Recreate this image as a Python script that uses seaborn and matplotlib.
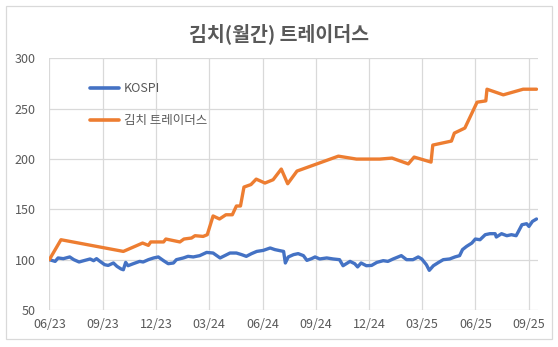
import matplotlib
matplotlib.use("Agg")
import matplotlib.pyplot as plt
import matplotlib.dates as mdates
from matplotlib.patches import Rectangle
import pandas as pd
import seaborn as sns

# 김치 트레이더스: monthly trade snapshots (index, start = 100)
kimchi_dates = [
    "2023-06-01", "2023-06-21", "2023-10-06", "2023-11-08", "2023-11-18", "2023-11-22",
    "2023-12-14", "2023-12-18", "2024-01-11", "2024-01-18", "2024-01-31", "2024-02-06",
    "2024-02-20", "2024-02-27", "2024-03-08", "2024-03-19", "2024-03-30", "2024-04-10",
    "2024-04-17", "2024-04-24", "2024-04-30", "2024-05-12", "2024-05-21", "2024-06-05",
    "2024-06-19", "2024-07-03", "2024-07-14", "2024-07-30", "2024-10-09", "2024-11-09",
    "2024-12-19", "2025-01-09", "2025-02-06", "2025-02-16", "2025-03-17", "2025-03-20",
    "2025-04-21", "2025-04-26", "2025-05-14", "2025-06-04", "2025-06-19", "2025-06-21",
    "2025-07-19", "2025-08-22", "2025-09-14",
]
kimchi_values = [
    100.0, 119.8, 108.2, 116.5, 114.2, 117.6,
    117.6, 120.5, 117.6, 120.5, 121.5, 123.8,
    123.1, 124.8, 143.4, 140.4, 144.6, 144.6,
    153.3, 153.3, 172.1, 174.6, 180.0, 176.1,
    179.4, 190.0, 175.4, 188.0, 202.8, 199.9,
    199.9, 200.9, 195.1, 201.9, 196.9, 213.8,
    217.8, 225.7, 230.7, 256.4, 257.7, 269.3,
    263.7, 269.3, 269.3,
]

# KOSPI index rebased to 100
kospi_dates = [
    "2023-06-01", "2023-06-11", "2023-06-16", "2023-06-25", "2023-07-06", "2023-07-13",
    "2023-07-22", "2023-08-01", "2023-08-10", "2023-08-16", "2023-08-21", "2023-08-27",
    "2023-09-04", "2023-09-10", "2023-09-19", "2023-09-25", "2023-10-02", "2023-10-06",
    "2023-10-10", "2023-10-14", "2023-10-23", "2023-11-03", "2023-11-09", "2023-11-18",
    "2023-11-27", "2023-12-05", "2023-12-14", "2023-12-22", "2023-12-31", "2024-01-05",
    "2024-01-17", "2024-01-25", "2024-02-03", "2024-02-14", "2024-02-26", "2024-03-08",
    "2024-03-20", "2024-03-28", "2024-04-06", "2024-04-17", "2024-04-26", "2024-05-04",
    "2024-05-13", "2024-05-22", "2024-06-02", "2024-06-14", "2024-06-22", "2024-07-01",
    "2024-07-07", "2024-07-10", "2024-07-15", "2024-07-24", "2024-08-01", "2024-08-10",
    "2024-08-16", "2024-08-24", "2024-08-30", "2024-09-07", "2024-09-19", "2024-09-30",
    "2024-10-11", "2024-10-17", "2024-10-29", "2024-11-06", "2024-11-11", "2024-11-17",
    "2024-11-26", "2024-12-05", "2024-12-14", "2024-12-25", "2025-01-02", "2025-01-11",
    "2025-01-25", "2025-02-03", "2025-02-14", "2025-02-23", "2025-03-01", "2025-03-09",
    "2025-03-14", "2025-03-21", "2025-03-30", "2025-04-07", "2025-04-18", "2025-04-27",
    "2025-05-05", "2025-05-10", "2025-05-17", "2025-05-26", "2025-06-01", "2025-06-09",
    "2025-06-18", "2025-06-26", "2025-07-05", "2025-07-07", "2025-07-16", "2025-07-25",
    "2025-08-02", "2025-08-10", "2025-08-14", "2025-08-20", "2025-08-28", "2025-09-01",
    "2025-09-07", "2025-09-14",
]
kospi_values = [
    100.0, 98.3, 101.7, 101.0, 102.7, 100.0,
    97.7, 99.3, 100.7, 99.0, 101.0, 98.3,
    95.0, 94.3, 96.7, 93.4, 90.8, 90.0,
    97.3, 94.0, 96.0, 98.3, 97.7, 100.0,
    101.7, 102.7, 99.0, 96.0, 96.7, 100.0,
    101.7, 103.3, 102.7, 104.0, 107.2, 106.6,
    101.7, 104.0, 106.6, 106.6, 105.0, 103.3,
    106.0, 108.2, 109.2, 111.6, 110.0, 108.9,
    108.2, 96.7, 102.7, 105.0, 106.0, 104.0,
    99.3, 101.0, 102.7, 100.7, 101.7, 100.7,
    100.0, 94.0, 98.3, 96.0, 92.8, 96.7,
    94.0, 94.3, 97.3, 99.0, 98.3, 100.7,
    104.0, 100.0, 100.0, 102.7, 100.7, 95.0,
    89.4, 94.0, 97.3, 100.0, 100.7, 102.7,
    104.0, 110.0, 113.2, 116.5, 120.5, 119.8,
    124.8, 125.8, 125.8, 122.5, 125.8, 123.8,
    124.8, 123.8, 128.1, 134.7, 135.7, 133.0,
    138.0, 140.4,
]

series_names = ["KOSPI", "김치 트레이더스"]
title_text = "김치(월간) 트레이더스"
y_ticks = [50, 100, 150, 200, 250, 300]

kospi_df = pd.DataFrame({"date": pd.to_datetime(kospi_dates), "value": kospi_values,
                         "series": series_names[0]})
kimchi_df = pd.DataFrame({"date": pd.to_datetime(kimchi_dates), "value": kimchi_values,
                          "series": series_names[1]})
df = pd.concat([kospi_df, kimchi_df], ignore_index=True)

sns.set_theme(style="white")
plt.rcParams["font.family"] = ["Noto Sans CJK KR", "DejaVu Sans"]

text_gray = "#595959"
grid_gray = "#D9D9D9"
palette = {series_names[0]: "#4472C4", series_names[1]: "#ED7D31"}

fig = plt.figure(figsize=(5.58, 3.47), dpi=100)
ax = fig.add_axes([0.0884, 0.1066, 0.8752, 0.7254])

sns.lineplot(data=df, x="date", y="value", hue="series", palette=palette,
             hue_order=series_names, linewidth=2.4, ax=ax, estimator=None, sort=False)

ax.set_ylim(50, 300)
ax.set_yticks(y_ticks)
ax.set_xlim(pd.Timestamp("2023-06-01"), pd.Timestamp("2025-09-16"))
ax.xaxis.set_major_locator(mdates.MonthLocator(bymonth=[3, 6, 9, 12]))
ax.xaxis.set_major_formatter(mdates.DateFormatter("%m/%y"))

ax.grid(True, color=grid_gray, linewidth=0.9)
ax.set_axisbelow(True)
for s in ax.spines.values():
    s.set_visible(False)
ax.tick_params(axis="x", colors=grid_gray, labelcolor=text_gray, labelsize=9,
               length=3, width=0.9, pad=3)
ax.tick_params(axis="y", length=0, labelcolor=text_gray, labelsize=9, pad=10)
ax.set_xlabel("")
ax.set_ylabel("")

leg = ax.legend(loc="upper left", bbox_to_anchor=(0.06, 0.95), frameon=False,
                handlelength=2.3, handletextpad=0.4, labelspacing=1.5,
                prop={"size": 9})
for t in leg.get_texts():
    t.set_color(text_gray)
for line in leg.get_lines():
    line.set_linewidth(2.6)

fig.text(0.5, 0.902, title_text, ha="center", va="center", fontsize=14,
         fontweight="bold", color=text_gray)

fig.patches.append(Rectangle((6 / 558, 1 - 339 / 347), 546 / 558, 333 / 347,
                             transform=fig.transFigure, fill=False,
                             edgecolor=grid_gray, linewidth=0.9))

fig.savefig("out.png", dpi=100)
